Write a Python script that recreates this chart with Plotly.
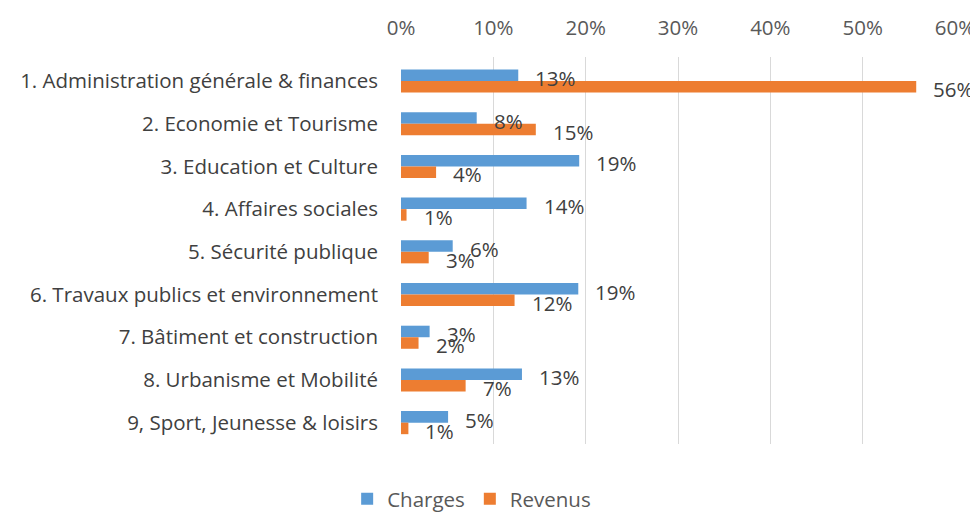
import plotly.graph_objects as go

categories = [
    "1. Administration générale & finances",
    "2. Economie et Tourisme",
    "3. Education et Culture",
    "4. Affaires sociales",
    "5. Sécurité publique",
    "6. Travaux publics et environnement",
    "7. Bâtiment et construction",
    "8. Urbanisme et Mobilité",
    "9, Sport, Jeunesse & loisirs",
]
charges = [0.127, 0.082, 0.193, 0.136, 0.056, 0.192, 0.031, 0.131, 0.051]
revenus = [0.558, 0.146, 0.038, 0.006, 0.030, 0.123, 0.019, 0.070, 0.008]
charges_labels = ["13%", "8%", "19%", "14%", "6%", "19%", "3%", "13%", "5%"]
revenus_labels = ["56%", "15%", "4%", "1%", "3%", "12%", "2%", "7%", "1%"]
tick_vals = [0, 0.1, 0.2, 0.3, 0.4, 0.5, 0.6]
tick_text = ["0%", "10%", "20%", "30%", "40%", "50%", "60%"]

BLUE = "#5B9BD5"
ORANGE = "#ED7D31"
FONT = "Open Sans"
FS = 20.5

fig = go.Figure()
fig.add_trace(go.Bar(y=categories, x=charges, orientation="h", name="Charges",
                     marker=dict(color=BLUE, line=dict(width=0))))
fig.add_trace(go.Bar(y=categories, x=revenus, orientation="h", name="Revenus",
                     marker=dict(color=ORANGE, line=dict(width=0))))

annotations = []
for cat, v, t in zip(categories, charges, charges_labels):
    annotations.append(dict(x=v, y=cat, text=t, showarrow=False, xanchor="left",
                            yanchor="middle", xshift=15, yshift=3,
                            font=dict(family=FONT, size=FS, color="#404040")))
for cat, v, t in zip(categories, revenus, revenus_labels):
    annotations.append(dict(x=v, y=cat, text=t, showarrow=False, xanchor="left",
                            yanchor="middle", xshift=15, yshift=-8,
                            font=dict(family=FONT, size=FS, color="#404040")))

fig.update_layout(
    width=970, height=506,
    margin=dict(l=393, r=23, t=49, b=70),
    paper_bgcolor="white", plot_bgcolor="white",
    barmode="group", bargap=0.46, bargroupgap=0,
    font=dict(family=FONT, size=FS, color="#595959"),
    showlegend=True,
    legend=dict(orientation="h", xref="container", yref="container",
                x=0.478, xanchor="center", y=0.03, yanchor="middle",
                traceorder="normal", itemwidth=30,
                font=dict(family=FONT, size=FS, color="#595959")),
    annotations=annotations,
    xaxis=dict(side="top", range=[0, 0.6], tickvals=tick_vals, ticktext=tick_text,
               showgrid=True, gridcolor="#D9D9D9", gridwidth=1, zeroline=False,
               showline=False, ticks="", ticklabelstandoff=17, automargin=False,
               tickfont=dict(family=FONT, size=FS, color="#595959")),
    yaxis=dict(autorange="reversed", showgrid=False, zeroline=False, showline=False,
               ticks="", ticklabelstandoff=22, automargin=False,
               tickfont=dict(family=FONT, size=FS, color="#404040")),
)

fig.write_html("out.html")
